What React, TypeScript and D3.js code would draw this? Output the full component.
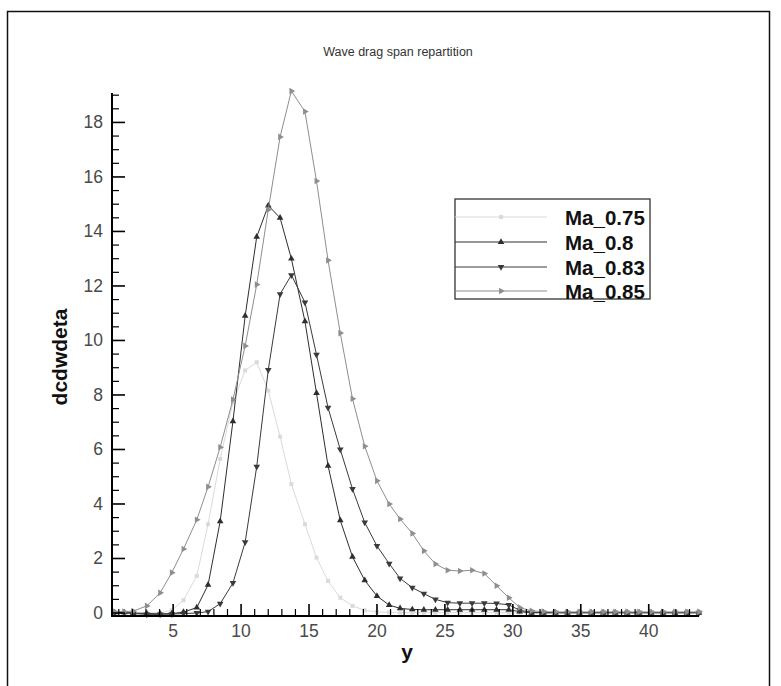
import React from "react";
import * as d3 from "d3";

const W = 781;
const H = 686;

const stations = [
  0.7, 1.4, 2.06, 3.06, 4.04, 4.9, 5.76, 6.74, 7.57, 8.46, 9.4, 10.3, 11.15, 12.0, 12.87, 13.7,
  14.7, 15.55, 16.4, 17.3, 18.2, 19.1, 20.0, 20.9, 21.7, 22.6, 23.45, 24.3, 25.2, 26.1, 27.0,
  27.9, 28.8, 29.7, 30.5, 31.38, 32.26, 33.14, 34.02, 34.9, 35.78, 36.66, 37.54, 38.42, 39.3,
  40.18, 41.06, 41.94, 42.82, 43.7,
];

const ma075 = [
  0.02, 0.02, 0.02, 0.02, 0.0, 0.1, 0.47, 1.36, 3.26, 5.65, 7.73, 8.9, 9.2, 8.16, 6.47, 4.73,
  3.26, 2.03, 1.18, 0.56, 0.26, 0.1, 0.04, 0.02, 0.01, 0.01, 0.01, 0.01, 0.01, 0.01, 0.01,
  0.01, 0.01, 0.01, 0.01, 0.01, 0.01, 0.01, 0.01, 0.01, 0.01, 0.01, 0.01, 0.01, 0.01,
  0.01, 0.01, 0.01, 0.01, 0.01,
];

const ma080 = [
  0.02, 0.02, 0.0, -0.02, -0.03, -0.02, 0.03, 0.2, 1.03, 3.36, 7.03, 10.9, 13.8, 14.95, 14.5, 13.0,
  10.7, 8.07, 5.4, 3.4, 2.06, 1.2, 0.62, 0.29, 0.17, 0.13, 0.12, 0.12, 0.12, 0.12, 0.12,
  0.12, 0.12, 0.12, 0.05, 0.01, 0.01, 0.01, 0.01, 0.01, 0.01, 0.01, 0.01, 0.01, 0.01,
  0.01, 0.01, 0.01, 0.01, 0.01,
];

const ma083 = [
  0.0, 0.0, -0.02, -0.05, -0.05, -0.04, -0.02, 0.0, 0.05, 0.34, 1.1, 2.6, 5.37, 8.92, 11.7, 12.4,
  11.4, 9.48, 7.53, 6.0, 4.55, 3.32, 2.46, 1.81, 1.27, 0.93, 0.71, 0.5, 0.38, 0.36, 0.36,
  0.36, 0.35, 0.3, 0.1, 0.03, 0.01, 0.01, 0.01, 0.01, 0.01, 0.01, 0.01, 0.01, 0.01,
  0.01, 0.01, 0.01, 0.01, 0.01,
];

const ma085 = [
  0.05, 0.05, 0.07, 0.26, 0.74, 1.48, 2.35, 3.42, 4.63, 6.08, 7.83, 9.8, 12.05, 14.8, 17.47, 19.15,
  18.4, 15.85, 12.94, 10.27, 7.86, 6.12, 4.85, 4.0, 3.45, 2.92, 2.28, 1.8, 1.57, 1.54, 1.57,
  1.45, 1.0, 0.56, 0.2, 0.08, 0.05, 0.04, 0.04, 0.04, 0.04, 0.04, 0.04, 0.04, 0.04,
  0.04, 0.04, 0.04, 0.04, 0.04,
];

const seriesNames = ["Ma_0.75", "Ma_0.8", "Ma_0.83", "Ma_0.85"];
const seriesValues = [ma075, ma080, ma083, ma085];
const seriesColors = ["#dadada", "#2e2e2e", "#3a3a3a", "#8e8e8e"];
const seriesMarkers = ["square", "up", "down", "right"];

const xMajorTicks = [5, 10, 15, 20, 25, 30, 35, 40];
const yMajorTicks = [0, 2, 4, 6, 8, 10, 12, 14, 16, 18];

const title = "Wave drag span repartition";
const xLabel = "y";
const yLabel = "dcdwdeta";

const FONT = "'Liberation Sans', Arial, Helvetica, sans-serif";

function markerPath(kind: string): { d: string; rot: number } {
  if (kind === "square") {
    return { d: d3.symbol().type(d3.symbolSquare).size(16)() || "", rot: 0 };
  }
  const tri = d3.symbol().type(d3.symbolTriangle).size(19)() || "";
  if (kind === "up") return { d: tri, rot: 0 };
  if (kind === "down") return { d: tri, rot: 180 };
  return { d: tri, rot: 90 };
}

export default function App() {
  const left = 112;
  const right = 699;
  const top = 93;
  const bottom = 616;

  const x = d3.scaleLinear().domain([0.5, 43.7]).range([left, right]);
  const y = d3.scaleLinear().domain([-0.11, 19.08]).range([bottom, top]);

  const line = d3
    .line<number>()
    .x((_, i) => x(stations[i]))
    .y((v) => y(v));

  const xMinor = d3.range(1, 44, 1).filter((t) => t % 5 !== 0);
  const yMinor = d3.range(0, 19.01, 0.5).filter((t) => t % 2 !== 0);

  const legend = { x0: 455, y0: 199, x1: 650, y1: 299 };
  const legendRows = [217, 242, 267, 291];

  return (
    <svg
      width={W}
      height={H}
      style={{ position: "absolute", left: 0, top: 0, background: "#fff" }}
      xmlns="http://www.w3.org/2000/svg"
    >
      <rect x={0} y={0} width={W} height={H} fill="#fff" />
      <rect x={7.5} y={11.5} width={762} height={700} fill="none" stroke="#111" strokeWidth={1.5} />

      <text x={398} y={56} textAnchor="middle" fontFamily={FONT} fontSize={12.5} fill="#333">
        {title}
      </text>

      {seriesValues.map((vals, si) => {
        const m = markerPath(seriesMarkers[si]);
        return (
          <g key={seriesNames[si]}>
            <path d={line(vals) || ""} fill="none" stroke={seriesColors[si]} strokeWidth={1} />
            {vals.map((v, i) => (
              <path
                key={i}
                d={m.d}
                transform={`translate(${x(stations[i])},${y(v)}) rotate(${m.rot})`}
                fill={seriesColors[si]}
              />
            ))}
          </g>
        );
      })}

      <line x1={left} y1={top} x2={left} y2={bottom + 1} stroke="#000" strokeWidth={2} />
      <line x1={left - 1} y1={bottom} x2={right} y2={bottom} stroke="#000" strokeWidth={2} />

      {yMajorTicks.map((t) => (
        <g key={"ym" + t}>
          <line x1={left} x2={left + 13} y1={y(t)} y2={y(t)} stroke="#000" strokeWidth={1.6} />
          <text
            x={103}
            y={y(t) + 6}
            textAnchor="end"
            fontFamily={FONT}
            fontSize={17.5}
            fill="#4a4a4a"
          >
            {t}
          </text>
        </g>
      ))}
      {yMinor.map((t) => (
        <line key={"yn" + t} x1={left} x2={left + 7} y1={y(t)} y2={y(t)} stroke="#000" strokeWidth={1.2} />
      ))}

      {xMajorTicks.map((t) => (
        <g key={"xm" + t}>
          <line x1={x(t)} x2={x(t)} y1={bottom} y2={bottom - 12} stroke="#000" strokeWidth={1.6} />
          <text x={x(t)} y={637} textAnchor="middle" fontFamily={FONT} fontSize={17.5} fill="#4a4a4a">
            {t}
          </text>
        </g>
      ))}
      {xMinor.map((t) => (
        <line key={"xn" + t} x1={x(t)} x2={x(t)} y1={bottom} y2={bottom - 7} stroke="#000" strokeWidth={1.2} />
      ))}

      <text
        x={407}
        y={659}
        textAnchor="middle"
        fontFamily={FONT}
        fontSize={21}
        fontWeight="bold"
        fill="#111"
      >
        {xLabel}
      </text>
      <text
        transform={`translate(67,357) rotate(-90)`}
        textAnchor="middle"
        fontFamily={FONT}
        fontSize={21}
        fontWeight="bold"
        fill="#111"
      >
        {yLabel}
      </text>

      <rect
        x={legend.x0}
        y={legend.y0}
        width={legend.x1 - legend.x0}
        height={legend.y1 - legend.y0}
        fill="#fff"
        stroke="#333"
        strokeWidth={1.3}
      />
      {seriesNames.map((name, si) => {
        const m = markerPath(seriesMarkers[si]);
        const ry = legendRows[si];
        return (
          <g key={"lg" + name}>
            <line x1={legend.x0} x2={547} y1={ry} y2={ry} stroke={seriesColors[si]} strokeWidth={1.1} />
            <path d={m.d} transform={`translate(501,${ry}) rotate(${m.rot})`} fill={seriesColors[si]} />
            <text
              x={565}
              y={ry + 7.5}
              fontFamily={FONT}
              fontSize={20.5}
              fontWeight="bold"
              fill="#111"
            >
              {name}
            </text>
          </g>
        );
      })}
    </svg>
  );
}
